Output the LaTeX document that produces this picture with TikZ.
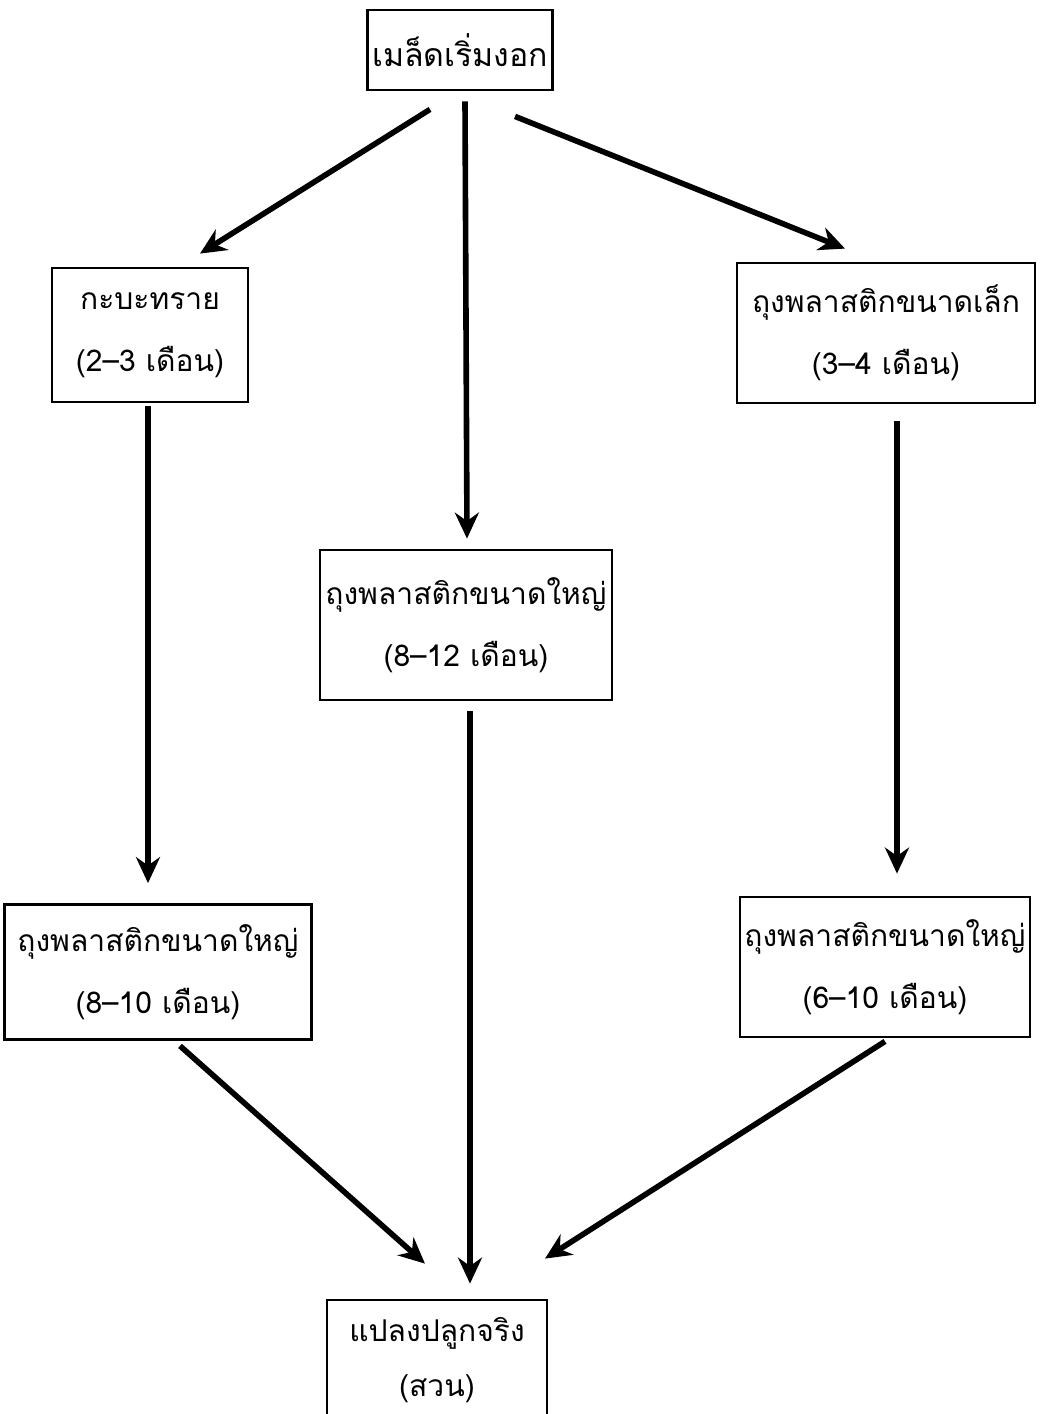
\documentclass[tikz,border=0pt]{standalone}
\usepackage{fontspec}
\newfontfamily\thai[Script=Thai]{Loma}
\usetikzlibrary{arrows.meta,calc}
\begin{document}
\begin{tikzpicture}[x=0.5pt,y=-0.5pt,
  box/.style={draw,line width=1.4pt,inner sep=0pt,align=center,font=\thai\fontsize{15}{31}\selectfont},
  flow/.style={line width=2.8pt,-{Stealth[length=13pt,width=12pt]}}]
\useasboundingbox (0,0) rectangle (1043,1414);
\node[box,minimum width=92.5pt,minimum height=40pt,font=\thai\fontsize{16}{31}\selectfont] (top) at (460,50) {เมล็ดเริ่มงอก};
\node[box,minimum width=98pt,minimum height=67pt] (sand) at (150,335) {กะบะทราย\\(2–3 เดือน)};
\node[box,minimum width=149pt,minimum height=70pt] (small) at (886,333) {ถุงพลาสติกขนาดเล็ก\\(3–4 เดือน)};
\node[box,minimum width=146pt,minimum height=75pt] (mid) at (466,625) {ถุงพลาสติกขนาดใหญ่\\(8–12 เดือน)};
\node[box,minimum width=153.5pt,minimum height=67.5pt] (bl) at (158,972) {ถุงพลาสติกขนาดใหญ่\\(8–10 เดือน)};
\node[box,minimum width=145pt,minimum height=70pt] (br) at (885,967) {ถุงพลาสติกขนาดใหญ่\\(6–10 เดือน)};
\node[box,minimum width=110pt,minimum height=60pt,font=\thai\fontsize{15}{27.5}\selectfont] (field) at (437,1360) {แปลงปลูกจริง\\(สวน)};
\draw[flow] ($(top.south)+(-30,18)$) -- ($(sand.north)+(50,-13)$);
\draw[flow] ($(top.south)+(5,10)$) -- ($(mid.north)+(1,-10)$);
\draw[flow] ($(top.south)+(55,25)$) -- ($(small.north)+(-41,-13)$);
\draw[flow] ($(sand.south)+(-2,3)$) -- ($(bl.north)+(-10,-20)$);
\draw[flow] ($(small.south)+(11,17)$) -- ($(br.north)+(12,-22)$);
\draw[flow] ($(mid.south)+(4,10)$) -- ($(field.north)+(33,-15)$);
\draw[flow] ($(bl.south)+(22,5)$) -- ($(field.north)+(-12,-35)$);
\draw[flow] ($(br.south)+(0,3)$) -- ($(field.north)+(108,-40)$);
\end{tikzpicture}
\end{document}
